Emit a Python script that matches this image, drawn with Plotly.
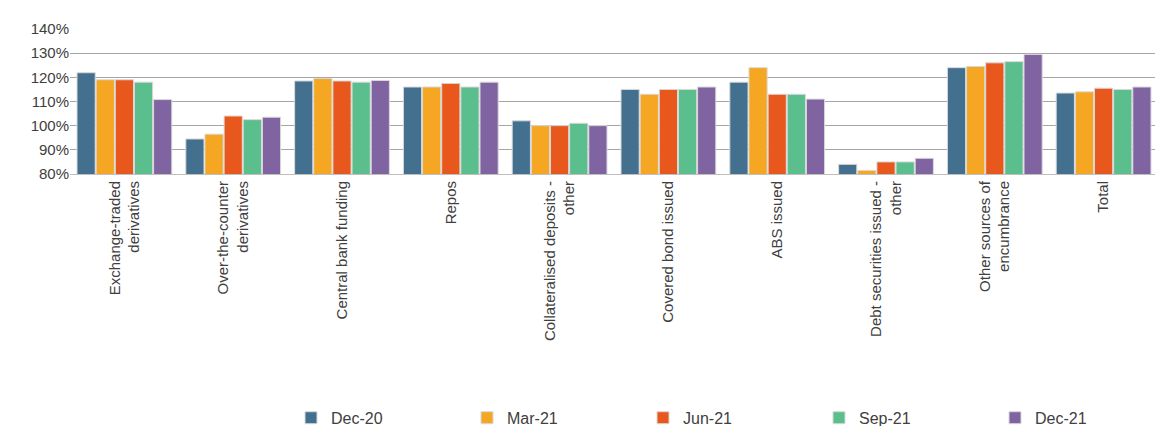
import plotly.graph_objects as go

categories = ["Exchange-traded<br>derivatives", "Over-the-counter<br>derivatives", "Central bank funding",
              "Repos", "Collateralised deposits -<br>other", "Covered bond issued", "ABS issued",
              "Debt securities issued -<br>other", "Other sources of<br>encumbrance", "Total"]
series_names = ["Dec-20", "Mar-21", "Jun-21", "Sep-21", "Dec-21"]
dec20 = [121.9, 94.5, 118.5, 116.0, 102.0, 115.0, 118.0, 84.0, 124.0, 113.5]
mar21 = [119.0, 96.5, 119.5, 116.0, 100.0, 113.0, 124.0, 81.5, 124.5, 114.0]
jun21 = [119.0, 104.0, 118.5, 117.5, 100.0, 115.0, 113.0, 85.0, 126.0, 115.5]
sep21 = [118.0, 102.5, 118.0, 116.0, 101.0, 115.0, 113.0, 85.0, 126.5, 115.0]
dec21 = [110.8, 103.5, 118.7, 118.0, 100.0, 116.0, 111.0, 86.5, 129.5, 116.0]
colors = ["#44708f", "#f5a623", "#e8581c", "#5bbe8d", "#8064a2"]

fig = go.Figure()
for name, vals, c in zip(series_names, [dec20, mar21, jun21, sep21, dec21], colors):
    fig.add_trace(go.Bar(x=categories, y=[v / 100 for v in vals], name=name, marker_color=c,
                         marker_line=dict(color="#d9d9d9", width=1)))

fig.update_layout(
    width=1163, height=426, barmode="group", bargap=0.12, bargroupgap=0.05,
    plot_bgcolor="white", paper_bgcolor="white",
    font=dict(family="Liberation Sans", size=15, color="#404040"),
    margin=dict(l=62, r=13, t=14, b=260),
    legend=dict(orientation="h", x=0.646, xanchor="center", y=0.038, yanchor="middle",
                yref="container", font=dict(size=16), traceorder="normal", entrywidth=131),
    yaxis=dict(range=[0.8, 1.4], dtick=0.1, tickformat=".0%", showgrid=True,
               gridcolor="#a6a6a6", gridwidth=1, showline=False, zeroline=False),
    xaxis=dict(tickangle=-90, showline=True, linecolor="#bfbfbf"),
)
fig.write_html("out.html")
